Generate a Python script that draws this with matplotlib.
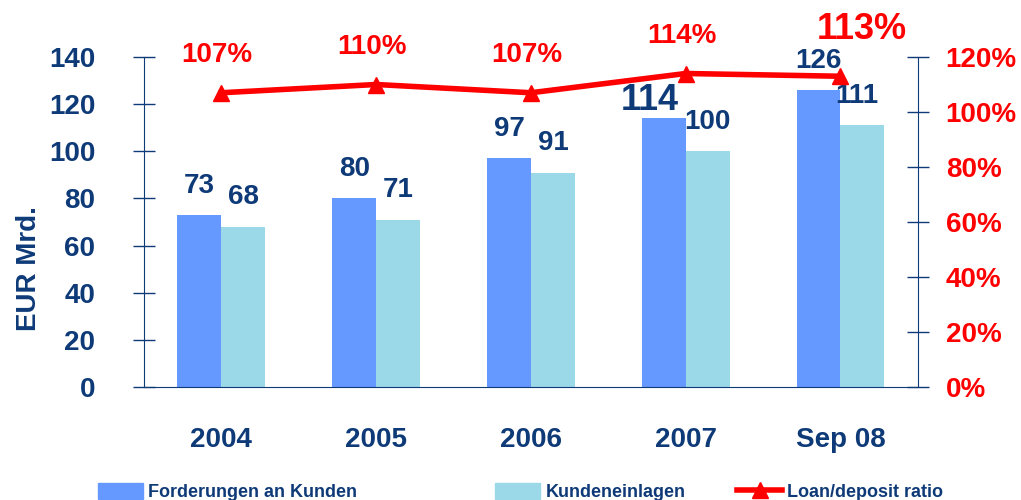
import numpy as np
import matplotlib.pyplot as plt
from matplotlib.lines import Line2D
from matplotlib.patches import Patch

plt.rcParams['font.family'] = ['Liberation Sans', 'DejaVu Sans']
plt.rcParams['font.weight'] = 'bold'

years = ['2004', '2005', '2006', '2007', 'Sep 08']
forderungen = [73, 80, 97, 114, 126]
einlagen = [68, 71, 91, 100, 111]
ratio = [107, 110, 107, 114, 113]

navy = '#0E3A78'
blue = '#6699FF'
light = '#9BD8E8'
red = '#FF0000'

fig = plt.figure(figsize=(10.21, 5.0), dpi=100)
ax = fig.add_axes([0.141, 0.226, 0.758, 0.660])
x = np.arange(len(years))
w = 0.284

ax.bar(x - w / 2, forderungen, w, color=blue, zorder=2)
ax.bar(x + w / 2, einlagen, w, color=light, zorder=2)

ax.set_xlim(-0.5, 4.5)
ax.set_ylim(0, 140)
ax.set_yticks(range(0, 141, 20))
ax.set_xticks(x)
ax.set_xticklabels(years, fontsize=20, color=navy, fontweight='bold')
ax.tick_params(axis='x', length=0, pad=29)
ax.tick_params(axis='y', direction='inout', length=16, width=1, color=navy,
               labelsize=20, labelcolor=navy, pad=27)
for s in ['top', 'right']:
    ax.spines[s].set_visible(False)
ax.spines['left'].set_color(navy)
ax.spines['bottom'].set_color(navy)
ax.set_ylabel('EUR Mrd.', fontsize=20, color=navy, fontweight='bold')
ax.yaxis.set_label_coords(-0.132, 0.36)

# bar value labels
for i, v in enumerate(forderungen):
    fs, dx, dy = 20, 0, 16
    if years[i] == '2007':
        fs, dx, dy = 26, -10, 6
    ax.annotate(str(v), (x[i] - w / 2, v), xytext=(dx, dy), textcoords='offset points',
                ha='center', va='baseline', fontsize=fs, color=navy, fontweight='bold')
for i, v in enumerate(einlagen):
    dx = -4 if years[i] == 'Sep 08' else 0
    ax.annotate(str(v), (x[i] + w / 2, v), xytext=(dx, 16), textcoords='offset points',
                ha='center', va='baseline', fontsize=20, color=navy, fontweight='bold')

ax2 = ax.twinx()
ax2.set_ylim(0, 120)
ax2.set_yticks(range(0, 121, 20))
ax2.set_yticklabels([f'{t}%' for t in range(0, 121, 20)])
ax2.plot(x, ratio, color=red, lw=4, marker='^', ms=12, zorder=3)
ax2.tick_params(axis='y', direction='inout', length=16, width=1, color=navy,
                labelsize=20, labelcolor=red, pad=12)
for s in ['top', 'left', 'bottom']:
    ax2.spines[s].set_visible(False)
ax2.spines['right'].set_color(navy)

for i, v in enumerate(ratio):
    fs, dx, dy = 20, -3, 22
    if years[i] == 'Sep 08':
        fs, dx, dy = 26, 15, 27
    ax2.annotate(f'{v}%', (x[i], v), xytext=(dx, dy), textcoords='offset points',
                 ha='center', va='baseline', fontsize=fs, color=red, fontweight='bold')

# legend, one entry per box so the spacing matches
handles = [Patch(color=blue), Patch(color=light),
           Line2D([0], [0], color=red, lw=4, marker='^', ms=11)]
labels = ['Forderungen an Kunden', 'Kundeneinlagen', 'Loan/deposit ratio']
xpos = [0.096, 0.485, 0.722]
for h, l, xp in zip(handles, labels, xpos):
    leg = fig.legend([h], [l], loc='center left', bbox_to_anchor=(xp, 0.016),
                     frameon=False, fontsize=13, handlelength=2.5, handleheight=1.0,
                     handletextpad=0.28, borderpad=0, borderaxespad=0)
    for t in leg.get_texts():
        t.set_color(navy)
        t.set_fontweight('bold')

fig.savefig('out.png', dpi=100)
